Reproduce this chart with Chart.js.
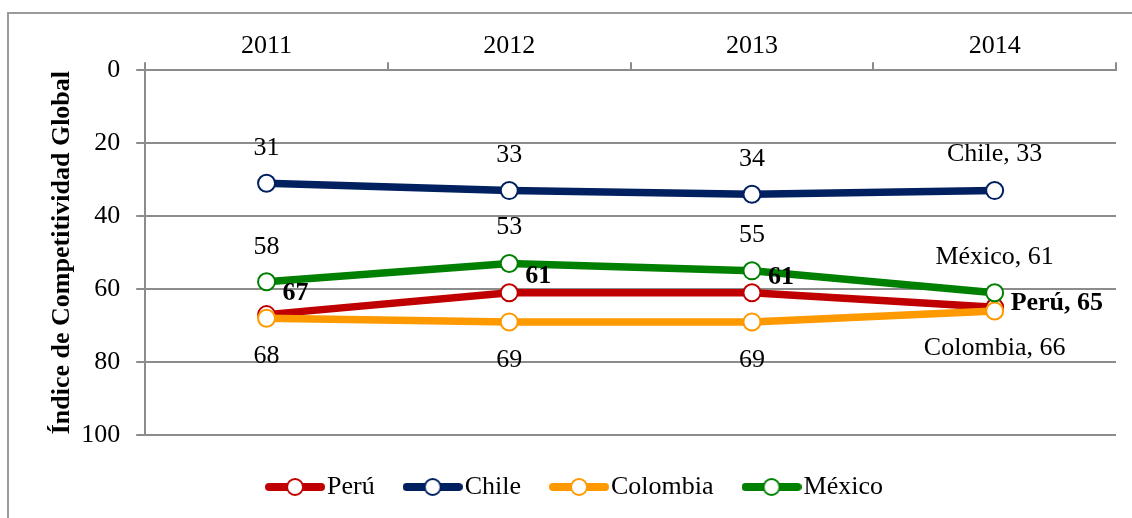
<!DOCTYPE html>
<html>
<head>
<meta charset="utf-8">
<script src="https://cdn.jsdelivr.net/npm/chart.js@4/dist/chart.umd.min.js"></script>
<style>
  html, body { margin: 0; padding: 0; background: #ffffff; }
  #wrap { width: 1132px; height: 518px; position: relative; }
</style>
</head>
<body>
<div id="wrap"><canvas id="c" width="1132" height="518"></canvas></div>
<script>
// ---- Data ----
const categories = ['2011', '2012', '2013', '2014'];
const seriesNames = ['Perú', 'Chile', 'Colombia', 'México'];
const peru = [67, 61, 61, 65];
const chile = [31, 33, 34, 33];
const colombia = [68, 69, 69, 66];
const mexico = [58, 53, 55, 61];
const yTicks = [0, 20, 40, 60, 80, 100];
const yTitle = 'Índice de Competitividad Global';

// ---- Styles ----
const colors = ['#C00000', '#002060', '#FF9900', '#008000'];
const FONT = '"Liberation Serif", "Times New Roman", serif';
const FS = 26;
const GRAY = '#8c8c8c';

function legendIcon(color) {
  const c = document.createElement('canvas');
  c.width = 60; c.height = 22;
  const g = c.getContext('2d');
  g.strokeStyle = color; g.lineWidth = 8; g.lineCap = 'round';
  g.beginPath(); g.moveTo(4, 11); g.lineTo(56, 11); g.stroke();
  g.fillStyle = '#fff'; g.lineWidth = 2;
  g.beginPath(); g.arc(30, 11, 8, 0, Math.PI * 2); g.fill(); g.stroke();
  return c;
}

function makeDataset(i, values, order) {
  return {
    label: seriesNames[i],
    data: values,
    borderColor: colors[i],
    backgroundColor: colors[i],
    borderWidth: 7.5,
    pointRadius: 8.5,
    pointBorderWidth: 2,
    pointBackgroundColor: '#ffffff',
    pointBorderColor: colors[i],
    pointStyle: 'circle',
    tension: 0,
    order: order,
    legendIcon: legendIcon(colors[i])
  };
}

// label placement per series and per point index (pixel offsets from the point)
const labelRules = {
  'Perú':     { dx: [16, 16, 16, 16], dy: [-21, -16, -15, -4], align: 'left', bold: true },
  'Chile':    { dx: [0, 0, 0, 0], dy: [-35, -35, -35, -36], align: 'center', bold: false },
  'Colombia': { dx: [0, 0, 0, 0], dy: [38, 38, 38, 37], align: 'center', bold: false },
  'México':   { dx: [0, 0, 0, 0], dy: [-35, -36, -36, -36], align: 'center', bold: false }
};

const dataLabelPlugin = {
  id: 'dataLabels',
  afterDatasetsDraw(chart) {
    const ctx = chart.ctx;
    ctx.save();
    ctx.textBaseline = 'middle';
    ctx.fillStyle = '#000';
    chart.data.datasets.forEach((ds, di) => {
      const meta = chart.getDatasetMeta(di);
      const rule = labelRules[ds.label];
      meta.data.forEach((pt, i) => {
        const last = i === ds.data.length - 1;
        const txt = last ? ds.label + ', ' + ds.data[i] : String(ds.data[i]);
        ctx.font = (rule.bold ? 'bold ' : '') + FS + 'px ' + FONT;
        ctx.textAlign = rule.align;
        ctx.fillText(txt, pt.x + rule.dx[i], pt.y + rule.dy[i]);
      });
    });
    ctx.restore();
  }
};

const framePlugin = {
  id: 'frame',
  beforeDraw(chart) {
    const ctx = chart.ctx;
    ctx.save();
    ctx.strokeStyle = '#9a9a9a';
    ctx.lineWidth = 2;
    ctx.beginPath();
    ctx.moveTo(8, 518);
    ctx.lineTo(8, 13);
    ctx.lineTo(1132, 13);
    ctx.stroke();
    ctx.restore();
  }
};

new Chart(document.getElementById('c'), {
  type: 'line',
  data: {
    labels: categories,
    datasets: [
      makeDataset(0, peru, 4),
      makeDataset(1, chile, 3),
      makeDataset(2, colombia, 2),
      makeDataset(3, mexico, 1)
    ]
  },
  options: {
    responsive: false,
    animation: false,
    layout: { padding: { left: 43, top: 31, right: 16, bottom: 8 } },
    plugins: {
      tooltip: { enabled: false },
      legend: {
        position: 'bottom',
        labels: {
          usePointStyle: true,
          pointStyleWidth: 38,
          padding: 39,
          color: '#000',
          font: { family: FONT, size: FS },
          sort: (a, b) => a.datasetIndex - b.datasetIndex,
          generateLabels(chart) {
            return chart.data.datasets.map((ds, i) => ({
              text: ds.label,
              pointStyle: ds.legendIcon,
              fillStyle: ds.borderColor,
              strokeStyle: ds.borderColor,
              lineWidth: 0,
              hidden: false,
              datasetIndex: i,
              fontColor: '#000'
            }));
          }
        }
      }
    },
    scales: {
      x: {
        type: 'category',
        position: 'top',
        offset: true,
        grid: {
          display: true,
          offset: true,
          drawOnChartArea: false,
          drawTicks: true,
          tickLength: 8,
          color: GRAY,
          lineWidth: 2
        },
        border: { display: true, color: GRAY, width: 2 },
        ticks: { color: '#000', font: { family: FONT, size: FS }, padding: 0 }
      },
      y: {
        reverse: true,
        min: 0,
        max: 100,
        afterBuildTicks(scale) { scale.ticks = yTicks.map(v => ({ value: v })); },
        grid: { color: GRAY, lineWidth: 2, tickLength: 9 },
        border: { display: true, color: GRAY, width: 2 },
        ticks: { color: '#000', font: { family: FONT, size: FS }, padding: 16 },
        title: {
          display: true,
          text: yTitle,
          color: '#000',
          font: { family: FONT, size: FS, weight: 'bold' },
          padding: { top: 4, bottom: -13 }
        }
      }
    }
  },
  plugins: [framePlugin, dataLabelPlugin]
});
</script>
</body>
</html>
